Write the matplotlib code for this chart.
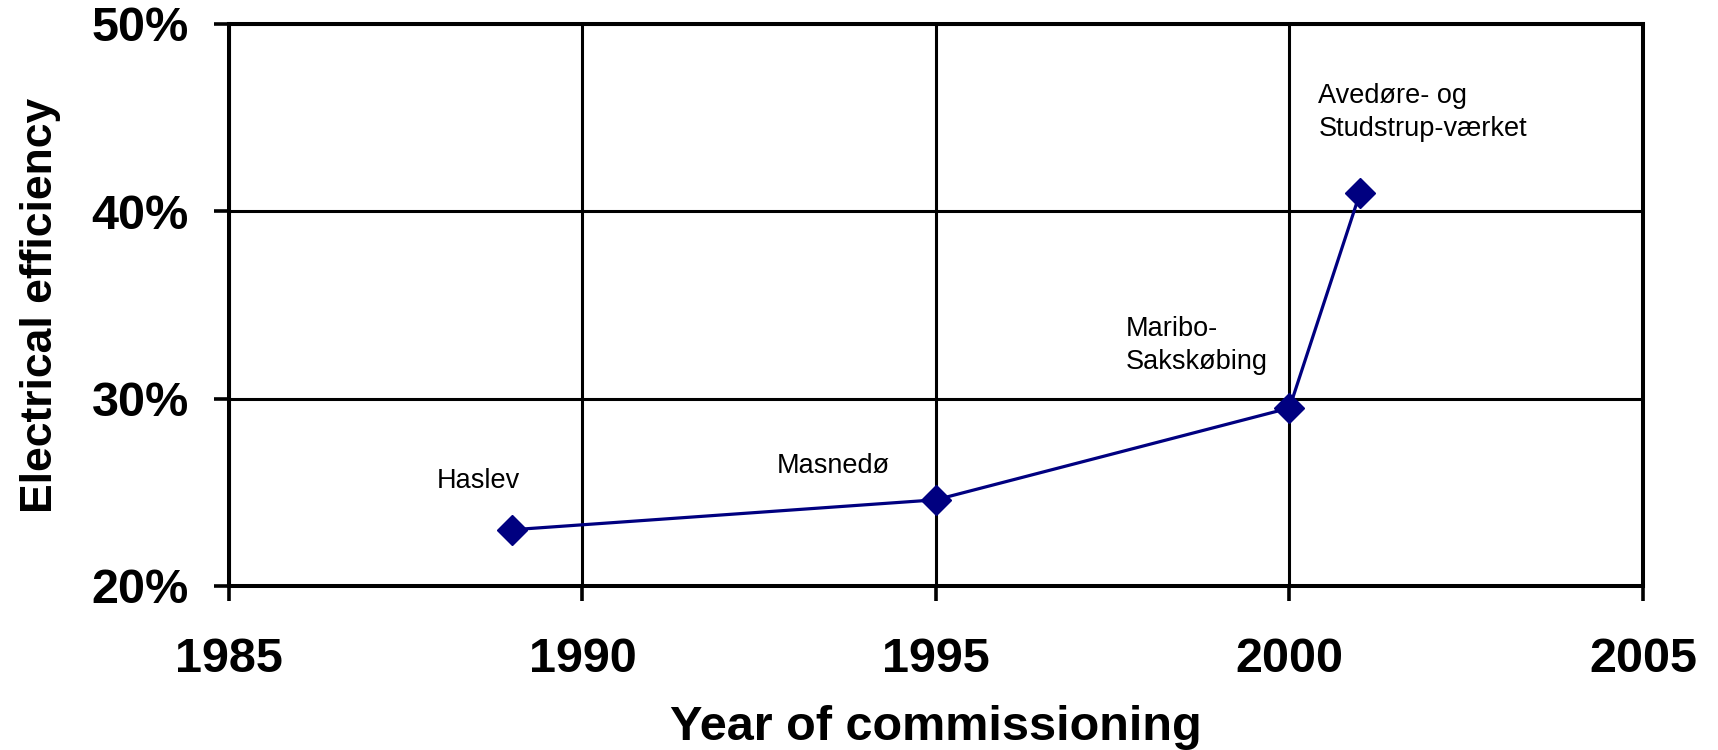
import matplotlib
matplotlib.use('Agg')
import matplotlib.pyplot as plt
from matplotlib.ticker import FuncFormatter

# commissioning year vs electrical efficiency (%)
years = [1989, 1995, 2000, 2001]
efficiency = [23.0, 24.6, 29.5, 41.0]
plants = ['Haslev', 'Masnedø', 'Maribo-\nSakskøbing', 'Avedøre- og\nStudstrup-værket']

x_ticks = [1985, 1990, 1995, 2000, 2005]
y_ticks = [20, 30, 40, 50]

# label placement (offset in points, horizontal alignment)
label_offsets = [(-24, 35), (-74, 24), (-118, 45), (-30, 58)]
label_ha = ['center', 'center', 'left', 'left']

plt.rcParams['font.family'] = ['Liberation Sans', 'DejaVu Sans']

fig = plt.figure(figsize=(17.18, 7.5), dpi=100)
ax = fig.add_axes([0.1333, 0.2187, 0.8230, 0.7493])

ax.plot(years, efficiency, color='#000080', linewidth=2.3, marker='D',
        markersize=15.5, markerfacecolor='#000080', markeredgecolor='#000080', zorder=3)

for x, y, name, off, ha in zip(years, efficiency, plants, label_offsets, label_ha):
    ax.annotate(name, (x, y), xytext=off, textcoords='offset points',
                ha=ha, va='center', fontsize=19.5, multialignment='left',
                linespacing=1.35)

ax.set_xlim(1985, 2005)
ax.set_ylim(20, 50)
ax.set_xticks(x_ticks)
ax.set_yticks(y_ticks)
ax.yaxis.set_major_formatter(FuncFormatter(lambda v, p: f'{v:.0f}%'))
ax.grid(True, color='black', linewidth=2.2)
ax.set_axisbelow(True)
for s in ax.spines.values():
    s.set_linewidth(2.9)
ax.tick_params(axis='both', direction='out', length=11, width=2.6,
               labelsize=35)
ax.tick_params(axis='y', pad=18)
ax.tick_params(axis='x', pad=26)
for lab in ax.get_xticklabels() + ax.get_yticklabels():
    lab.set_fontweight('bold')

ax.set_xlabel('Year of commissioning', fontsize=35, fontweight='bold', labelpad=16)
ax.set_ylabel('Electrical efficiency', fontsize=32, fontweight='bold', labelpad=22)

fig.savefig('out.png', dpi=100)
